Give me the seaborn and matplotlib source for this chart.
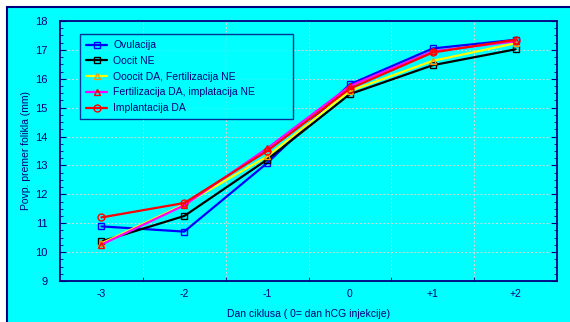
import numpy as np
import pandas as pd
import matplotlib
matplotlib.use("Agg")
import matplotlib.pyplot as plt
from matplotlib.patches import Rectangle
import seaborn as sns

# DATA
days = ["-3", "-2", "-1", "0", "+1", "+2"]
ovulacija = [10.89, 10.71, 13.08, 15.81, 17.05, 17.35]
oocit_ne = [10.37, 11.25, 13.20, 15.47, 16.47, 17.02]
oocit_da = [10.30, 11.65, 13.31, 15.58, 16.62, 17.23]
fert_da = [10.26, 11.62, 13.59, 15.75, 16.95, 17.30]
impl_da = [11.20, 11.70, 13.50, 15.66, 16.91, 17.35]

labels = ["Ovulacija", "Oocit NE", "Ooocit DA, Fertilizacija NE",
          "Fertilizacija DA, implatacija NE", "Implantacija DA"]
series = [ovulacija, oocit_ne, oocit_da, fert_da, impl_da]

NAVY = "#00007f"
CYAN = "#00ffff"
line_cols = ["#0000ff", "#000000", "#ffff00", "#ff00ff", "#ff0000"]
mark_cols = ["#0000ff", "#000000", "#ff9900", "#ff0000", "#ff0000"]
markers = ["s", "s", "^", "^", "o"]

sns.set_style("ticks")
plt.rcParams["font.family"] = ["Liberation Sans", "DejaVu Sans"]

fig = plt.figure(figsize=(5.7, 3.22), dpi=100, facecolor="white")
# cyan panel with navy border
fig.patches.append(Rectangle((7 / 570, -0.1), 1.1, 1 - 7 / 322 + 0.1,
                             transform=fig.transFigure, facecolor=CYAN,
                             edgecolor=NAVY, linewidth=1.5, zorder=-10))
ax = fig.add_axes([60 / 570, 1 - 281 / 322, 497 / 570, 260 / 322])
ax.set_facecolor(CYAN)

x = np.arange(len(days))
for vals, lab, lc, mc, mk in zip(series, labels, line_cols, mark_cols, markers):
    df = pd.DataFrame({"x": x, "y": vals})
    sns.lineplot(data=df, x="x", y="y", ax=ax, color=lc, linewidth=1.6,
                 marker=mk, markersize=5, markerfacecolor="none",
                 markeredgecolor=mc, markeredgewidth=1.0, label=lab)

ax.set_xlim(-0.5, len(days) - 0.5)
ax.set_ylim(9, 18)
ax.set_xticks(x)
ax.set_xticklabels(days)
ax.set_yticks(np.arange(9, 19, 1))
ax.set_xticks(np.arange(0.5, len(days) - 0.5, 1), minor=True)
ax.set_yticks(np.arange(9, 18.01, 0.25), minor=True)
ax.tick_params(axis="x", which="major", length=0, pad=6, labelsize=7.5, labelcolor=NAVY)
ax.tick_params(axis="x", which="minor", direction="in", length=3, color=NAVY, top=False)
ax.tick_params(axis="y", which="major", direction="in", length=4, color=NAVY,
               right=True, labelsize=8, labelcolor=NAVY, pad=9)
ax.tick_params(axis="y", which="minor", direction="in", length=2, color=NAVY, right=True)
ax.grid(True, which="minor", axis="x", color="#d8d8d8", linestyle=(0, (2, 2)), linewidth=0.7)
ax.grid(True, which="major", axis="y", color="#d8d8d8", linestyle=(0, (2, 2)), linewidth=0.7)
for s in ax.spines.values():
    s.set_color(NAVY)
    s.set_linewidth(1.3)

ax.set_xlabel("Dan ciklusa ( 0= dan hCG injekcije)", fontsize=7.5, color=NAVY, labelpad=7)
ax.set_ylabel("Povp. premer folikla (mm)", fontsize=7.5, color=NAVY, labelpad=3)

leg = ax.legend(loc="upper left", bbox_to_anchor=(20 / 497, 1 - 98 / 260, 213 / 497, 85 / 260),
                mode="expand", fontsize=7.5, frameon=True, fancybox=False, borderaxespad=0,
                handlelength=2.0, handletextpad=0.6, labelspacing=0.55, borderpad=0.6)
leg.get_frame().set_facecolor(CYAN)
leg.get_frame().set_edgecolor(NAVY)
leg.get_frame().set_linewidth(1.0)
for t in leg.get_texts():
    t.set_color(NAVY)

fig.savefig("out.png", dpi=100, facecolor="white")
